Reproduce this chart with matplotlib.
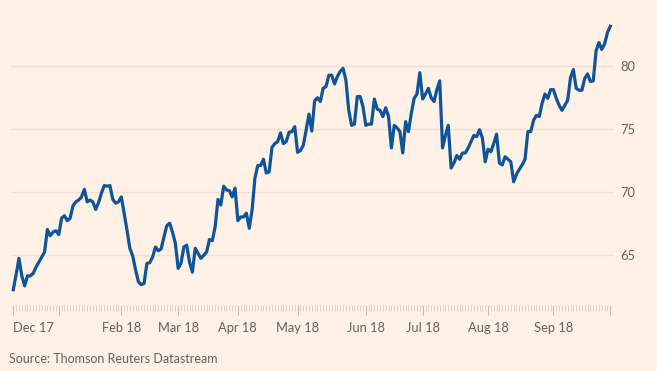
import numpy as np
import matplotlib
matplotlib.use("Agg")
import matplotlib.pyplot as plt
from matplotlib.ticker import FixedLocator, FixedFormatter

# ── Data: daily price, one value per trading day ──────────────────────────
PRICES = [
    62.2, 63.4, 64.7, 63.3, 62.5, 63.3, 63.3, 63.5, 64.0, 64.4,
    64.8, 65.2, 67.0, 66.5, 66.8, 66.9, 66.6, 67.9, 68.1, 67.7,
    67.9, 68.9, 69.2, 69.35, 69.6, 70.2, 69.2, 69.35, 69.2, 68.6,
    69.15, 69.9, 70.5, 70.45, 70.5, 69.4, 69.1, 69.2, 69.6, 68.3,
    66.95, 65.5, 64.9, 63.8, 62.85, 62.6, 62.7, 64.3, 64.35, 64.8,
    65.6, 65.3, 65.45, 66.4, 67.3, 67.5, 66.8, 65.9, 63.9, 64.3,
    65.6, 65.75, 64.4, 63.6, 65.5, 65.1, 64.7, 64.95, 65.2, 66.2,
    66.1, 67.2, 69.4, 68.95, 70.45, 70.15, 70.1, 69.6, 70.3, 67.7,
    68.0, 68.0, 68.3, 67.1, 68.55, 71.1, 72.1, 72.1, 72.6, 71.5,
    71.6, 73.55, 73.85, 74.0, 74.7, 73.85, 74.0, 74.75, 74.8, 75.2,
    73.15, 73.3, 73.7, 74.9, 76.2, 74.85, 77.25, 77.5, 77.2, 78.25,
    78.4, 79.3, 79.3, 78.6, 79.2, 79.6, 79.85, 78.9, 76.5, 75.3,
    75.4, 77.6, 77.6, 76.8, 75.3, 75.4, 75.4, 77.4, 76.6, 76.5,
    76.0, 76.7, 76.0, 73.5, 75.3, 75.1, 74.8, 73.1, 75.6, 74.8,
    76.25, 77.45, 77.8, 79.5, 77.4, 77.8, 78.25, 77.5, 77.2, 78.15,
    78.85, 73.5, 74.5, 75.3, 71.9, 72.3, 72.9, 72.6, 73.1, 73.1,
    73.5, 74.0, 74.5, 74.4, 74.95, 74.3, 72.4, 73.4, 73.2, 73.85,
    74.6, 72.3, 72.15, 72.8, 72.6, 72.4, 70.8, 71.4, 71.8, 72.15,
    72.6, 74.8, 74.8, 75.7, 76.1, 76.0, 77.05, 77.8, 77.45, 78.15,
    78.15, 77.45, 76.9, 76.5, 76.9, 77.3, 79.1, 79.75, 78.25, 78.1,
    78.1, 79.05, 79.4, 78.8, 78.85, 81.25, 81.9, 81.35, 81.8, 82.7,
    83.2,
]

# trading-day index of each month start, and its label ("" = unlabelled)
MONTH_IDX = [0, 16, 38, 58, 79, 100, 124, 144, 167, 190, 210]
MONTH_LABELS = ["Dec 17", "", "Feb 18", "Mar 18", "Apr 18", "May 18",
                "Jun 18", "Jul 18", "Aug 18", "Sep 18", ""]

Y_TICKS = [65, 70, 75, 80]
SOURCE = "Source: Thomson Reuters Datastream"

# ── Style ────────────────────────────────────────────────────────────────
BG = "#fff1e5"
LINE = "#0f5499"
GRID = "#ede0d4"
TEXT = "#66605c"

plt.rcParams["font.family"] = ["Lato", "DejaVu Sans"]

fig = plt.figure(figsize=(6.57, 3.71), dpi=100, facecolor=BG)
ax = fig.add_axes([11 / 657, 1 - 305 / 371, (614 - 11) / 657, (305 - 20) / 371])
ax.set_facecolor(BG)

x = np.arange(len(PRICES))
ax.plot(x, PRICES, color=LINE, lw=2.3, solid_joinstyle="round", zorder=3)

ax.set_xlim(-0.8, 211.3)
ax.set_ylim(60.98, 83.7)

for s in ax.spines.values():
    s.set_visible(False)

ax.yaxis.tick_right()
ax.set_yticks(Y_TICKS)
ax.grid(axis="y", color=GRID, lw=1.0, zorder=0)
ax.tick_params(axis="y", length=0, pad=4.5, labelsize=9.3, labelcolor=TEXT)

ax.xaxis.set_major_locator(FixedLocator(MONTH_IDX))
ax.xaxis.set_major_formatter(FixedFormatter(MONTH_LABELS))
ax.xaxis.set_minor_locator(FixedLocator(x))
ax.tick_params(axis="x", which="major", length=7, width=0.8, color="#c9bdb2",
               pad=5, labelsize=9.3, labelcolor=TEXT)
ax.tick_params(axis="x", which="minor", length=4.5, width=0.6, color="#d8ccc1")

# first label starts at its tick instead of centring on it
ax.xaxis.get_major_ticks()[0].label1.set_horizontalalignment("left")

fig.text(9 / 657, 1 - 359 / 371, SOURCE, fontsize=9.0, color=TEXT,
         ha="left", va="center")

fig.savefig("out.png", dpi=100, facecolor=BG)
